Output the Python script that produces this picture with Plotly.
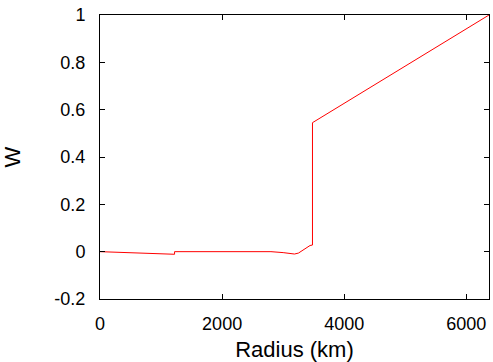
import plotly.graph_objects as go

radius_km = [0, 1221, 1221, 1800, 2400, 2800, 3000, 3100, 3185, 3250, 3300, 3380, 3440, 3480, 3480, 6371]
w_values = [0.0, -0.011, 0.0, 0.0005, 0.0005, 0.0, -0.004, -0.008, -0.010, -0.006, 0.002, 0.013, 0.026, 0.028, 0.545, 1.0]

x_ticks = [0, 2000, 4000, 6000]
y_ticks = [-0.2, 0, 0.2, 0.4, 0.6, 0.8, 1]
y_tick_text = ["-0.2", "0", "0.2", "0.4", "0.6", "0.8", "1"]

fig = go.Figure()
fig.add_trace(go.Scatter(x=radius_km, y=w_values, mode="lines",
                         line=dict(color="#ff0000", width=1), showlegend=False))

font = dict(family="Liberation Sans, Arial, sans-serif", size=18, color="#000000")
fig.update_layout(
    width=493, height=362,
    margin=dict(l=100, r=4, t=15, b=63),
    paper_bgcolor="white", plot_bgcolor="white",
    font=font,
)
fig.update_xaxes(range=[0, 6371], tickvals=x_ticks, ticks="inside", ticklen=5,
                 showline=True, linecolor="black", linewidth=1, mirror="ticks",
                 showgrid=False, zeroline=False, tickcolor="black",
                 ticklabelstandoff=8,
                 title=dict(text="Radius (km)", standoff=10))
fig.update_yaxes(range=[-0.2, 1], tickvals=y_ticks, ticktext=y_tick_text, ticks="inside", ticklen=5,
                 showline=True, linecolor="black", linewidth=1, mirror="ticks",
                 showgrid=False, zeroline=False, tickcolor="black",
                 ticklabelstandoff=10,
                 title=dict(text="W", standoff=32))

fig.write_html("out.html")
